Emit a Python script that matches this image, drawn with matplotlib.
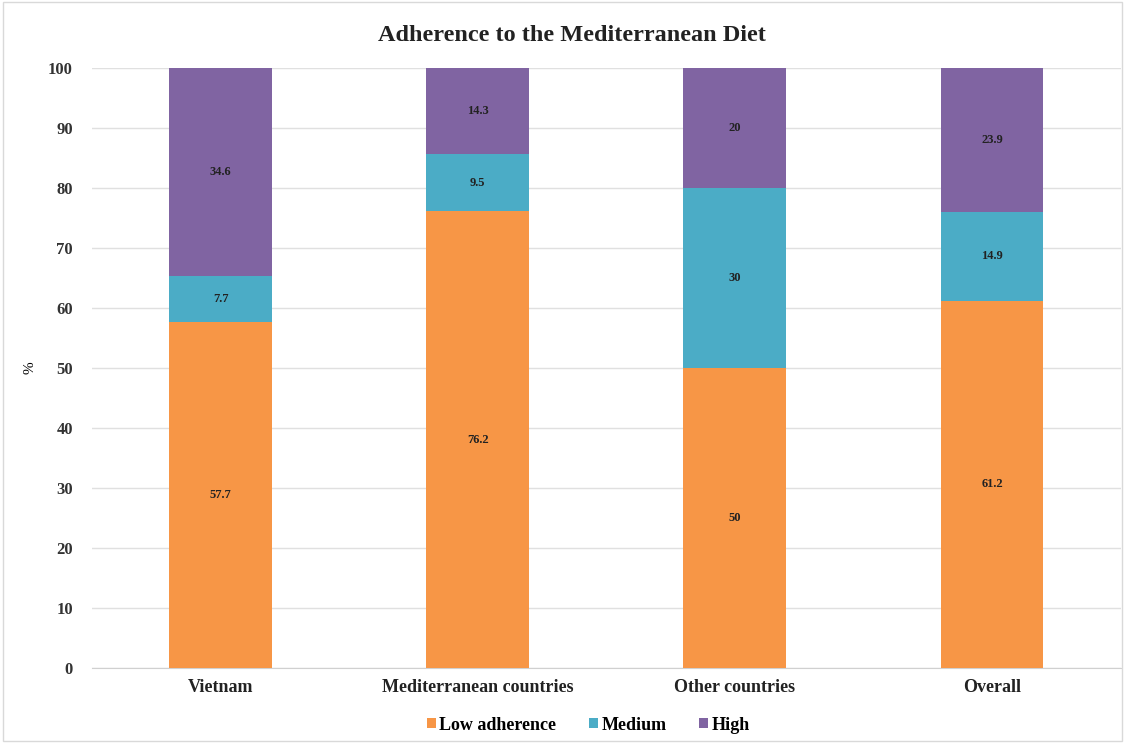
import numpy as np
import matplotlib
matplotlib.use("Agg")
import matplotlib.pyplot as plt

plt.rcParams['font.family'] = ['Liberation Serif', 'DejaVu Serif']
plt.rcParams['font.weight'] = 'bold'

categories = ["Vietnam", "Mediterranean countries", "Other countries", "Overall"]
low = [57.7, 76.2, 50, 61.2]
medium = [7.7, 9.5, 30, 14.9]
high = [34.6, 14.3, 20, 23.9]
series_names = ["Low adherence", "Medium", "High"]
colors = ["#F79646", "#4BACC6", "#8064A2"]

fig = plt.figure(figsize=(11.25, 7.43), dpi=100)
ax = fig.add_axes([0.082, 0.101, 0.914, 0.807])

x = np.arange(len(categories))
bottom = np.zeros(len(categories))
for vals, name, c in zip([low, medium, high], series_names, colors):
    bars = ax.bar(x, vals, 0.4, bottom=bottom, color=c, label=name, zorder=3)
    for b, v, b0 in zip(bars, vals, bottom):
        ax.text(b.get_x() + b.get_width() / 2, b0 + v / 2, f"{v:g}",
                ha="center", va="center", fontsize=9, color="#222222", fontweight="bold")
    bottom += np.array(vals)

ax.set_xlim(-0.5, 3.5)
ax.set_ylim(0, 100)
ax.set_yticks(range(0, 101, 10))
ax.set_xticks(x)
ax.set_xticklabels(categories, fontsize=13)
ax.tick_params(axis='y', labelsize=12, length=0, pad=14, colors="#333333")
ax.tick_params(axis='x', length=0, pad=8, colors="#222222")
ax.grid(axis='y', color="#E0E0E0", linewidth=1, zorder=0)
for s in ["top", "right", "left"]:
    ax.spines[s].set_visible(False)
ax.spines["bottom"].set_color("#D0D0D0")
ax.set_ylabel("%", fontsize=11, labelpad=8)

fig.text(0.508, 0.952, "Adherence to the Mediterranean Diet", ha="center", va="center",
         fontsize=17.5, fontweight="bold", color="#222222")
fig.legend(loc="center", bbox_to_anchor=(0.523, 0.024), ncol=3, frameon=False,
           fontsize=13, handlelength=0.5, handleheight=0.5, handletextpad=0.2,
           columnspacing=1.8)

border = plt.Rectangle((0.003, 0.003), 0.994, 0.994, transform=fig.transFigure,
                       fill=False, edgecolor="#D9D9D9", linewidth=1)
fig.add_artist(border)

fig.savefig("out.png", dpi=100)
